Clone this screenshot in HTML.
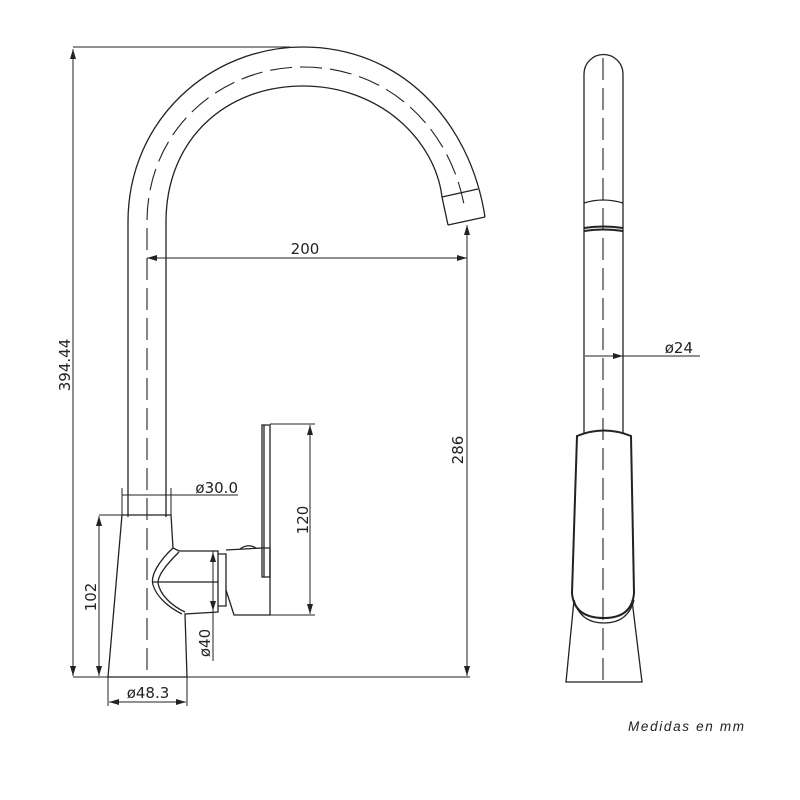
<!DOCTYPE html>
<html><head><meta charset="utf-8"><style>
html,body{margin:0;padding:0;background:#fff;width:800px;height:800px;overflow:hidden}
svg{display:block}
text{font-family:"DejaVu Sans","Liberation Sans",sans-serif;fill:#222}
</style></head><body>
<svg width="800" height="800" viewBox="0 0 800 800" xmlns="http://www.w3.org/2000/svg">
<defs>
<marker id="a" viewBox="0 0 10 6" refX="10" refY="3" markerWidth="10" markerHeight="6" orient="auto-start-reverse" markerUnits="userSpaceOnUse"><path d="M0,0 L10,3 L0,6 z" fill="#222"/></marker>
</defs>
<g fill="none" stroke="#222" stroke-width="1.3">
<path d="M128,517 L128,222 C128,120 210,47 303,47 C400,47 470,120 485,217"/>
<path d="M166,517 L166,222 C166,140 225,86 303,86 C380,86 435,140 442,197"/>
<path d="M442,197 L478,189 M448,225 L485,217 M442,197 L448,225"/>
<path d="M147,670 L147,222 C147,130 220,67 303,67 C390,67 452,130 465,210" stroke-dasharray="22,8" stroke-width="1.1"/>
<path d="M122,515 L171,515 L173,548 L179,551 L218,551 L218,612 L185,614 L187,677 L108,677 Z"/>
<path d="M173,548 C160,560 150,575 153,585 C157,598 170,608 182,614"/>
<path d="M179,552 C166,565 158,575 158,583 C160,595 172,606 185,612"/>
<path d="M153,582 L218,582"/>
<path d="M218,554 L226,554 L226,606 L218,606"/>
<path d="M226,550 L262,548 L270,548 L270,615 L234,615 L226,590"/>
<path d="M240,549 Q248,543 256,548"/>
<path d="M262,425 L262,577 L270,577 L270,425 Z"/>
<path d="M264,425 L264,577"/>
<g stroke-width="1">
<path d="M73,47 L290,47"/>
<path d="M73,49 L73,676" marker-start="url(#a)" marker-end="url(#a)"/>
<path d="M73,677 L470,677"/>
<path d="M147,258 L467,258" marker-start="url(#a)" marker-end="url(#a)"/>
<path d="M467,225 L467,676" marker-start="url(#a)" marker-end="url(#a)"/>
<path d="M122,495 L238,495"/>
<path d="M122,488 L122,515 M171,488 L171,515"/>
<path d="M99,515 L122,515"/>
<path d="M99,516 L99,676" marker-start="url(#a)" marker-end="url(#a)"/>
<path d="M108,677 L108,706 M187,677 L187,706"/>
<path d="M109,702 L186,702" marker-start="url(#a)" marker-end="url(#a)"/>
<path d="M213,551 L213,661"/>
<path d="M213,552 L213,611" marker-start="url(#a)" marker-end="url(#a)"/>
<path d="M270,424 L315,424 M270,615 L315,615"/>
<path d="M310,425 L310,614" marker-start="url(#a)" marker-end="url(#a)"/>
</g>
<path d="M584,433 L584,74 A19.5,19.5 0 0 1 623,74 L623,433"/>
<path d="M603,58 L603,682" stroke-dasharray="22,8" stroke-width="1.1"/>
<path d="M584,203 Q603,197 623,203"/>
<path d="M584,228 Q603,225 623,228 M584,231 Q603,228 623,231" stroke-width="2"/>
<path d="M577,436 Q604,425 631,436 L634,593 Q632,618 604,618 Q574,618 572,593 Z" stroke-width="2"/>
<path d="M574,600 Q580,623 604,623 Q628,623 634,600"/>
<path d="M574,600 L566,682 L642,682 L632,600"/>
<path d="M585,356 L700,356" stroke-width="1"/>
<path d="M603,356 L585,356 M603,356 L623,356" stroke-width="1" marker-end="url(#a)"/>
</g>
<g font-size="15">
<text x="305" y="254" text-anchor="middle">200</text>
<text x="238" y="493" text-anchor="end">ø30.0</text>
<text x="148" y="698" text-anchor="middle">ø48.3</text>
<text x="693" y="353" text-anchor="end">ø24</text>
<text transform="translate(70,365) rotate(-90)" text-anchor="middle">394.44</text>
<text transform="translate(463,450) rotate(-90)" text-anchor="middle">286</text>
<text transform="translate(96,597) rotate(-90)" text-anchor="middle">102</text>
<text transform="translate(308,520) rotate(-90)" text-anchor="middle">120</text>
<text transform="translate(210,643) rotate(-90)" text-anchor="middle">ø40</text>
</g>
<text x="628" y="731" font-size="13.5" font-style="italic" textLength="116" style="font-family:'Liberation Sans',sans-serif">Medidas en mm</text>
</svg>
</body></html>
